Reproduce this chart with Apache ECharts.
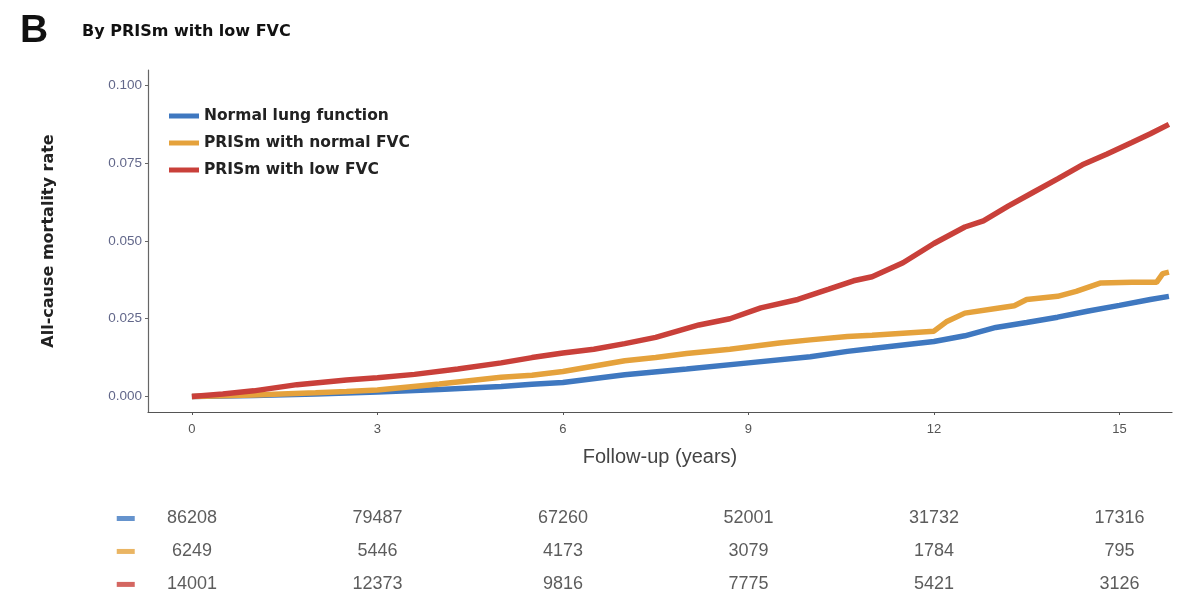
<!DOCTYPE html>
<html><head><meta charset="utf-8">
<script src="https://cdn.jsdelivr.net/npm/echarts@6/dist/echarts.min.js"></script>
<style>html,body{margin:0;padding:0;background:#fff}#c{width:1191px;height:596px}</style>
</head><body><div id="c"></div>
<script>
var seriesNames = ['Normal lung function', 'PRISm with normal FVC', 'PRISm with low FVC'];
var colors = ['#3f78c0', '#e5a23c', '#c9403a'];

var timeNormal = [0, 1, 2, 3, 4, 5, 5.5, 6, 7, 8, 9, 10, 10.6, 11, 12, 12.5, 13, 13.5, 14, 14.5, 15, 15.5, 15.8];
var valNormal  = [0, 0.0003, 0.0008, 0.0014, 0.0022, 0.0032, 0.0039, 0.0045, 0.0070, 0.0088, 0.0108, 0.0128, 0.0145, 0.0154, 0.0177, 0.0195, 0.0222, 0.0238, 0.0255, 0.0275, 0.0293, 0.0312, 0.0322];

var timeNormalFVC = [0, 1, 2, 2.5, 3, 4, 5, 5.5, 6, 7, 7.5, 8, 8.7, 9.5, 10, 10.6, 11, 12, 12.2, 12.5, 13, 13.3, 13.5, 14, 14.3, 14.7, 15.2, 15.6, 15.7, 15.8];
var valNormalFVC  = [0, 0.0005, 0.0012, 0.0016, 0.0021, 0.0040, 0.0062, 0.0068, 0.0080, 0.0115, 0.0125, 0.0138, 0.0152, 0.0172, 0.0182, 0.0193, 0.0197, 0.0210, 0.0240, 0.0268, 0.0283, 0.0292, 0.0312, 0.0322, 0.0338, 0.0365, 0.0367, 0.0367, 0.0395, 0.0400];

var timeLowFVC = [0, 0.5, 1, 1.7, 2.5, 3, 3.6, 4.3, 5, 5.5, 6, 6.5, 7, 7.5, 8.2, 8.7, 9.2, 9.8, 10.3, 10.7, 11, 11.5, 12, 12.5, 12.8, 13.2, 13.6, 14, 14.4, 14.8, 15.2, 15.5, 15.8];
var valLowFVC  = [0, 0.0008, 0.0018, 0.0038, 0.0053, 0.0060, 0.0071, 0.0088, 0.0108, 0.0125, 0.0140, 0.0152, 0.0170, 0.0190, 0.0230, 0.0250, 0.0285, 0.0312, 0.0345, 0.0372, 0.0385, 0.0430, 0.0492, 0.0545, 0.0565, 0.0612, 0.0656, 0.0700, 0.0745, 0.0780, 0.0817, 0.0845, 0.0875];

var riskTimes = [0, 3, 6, 9, 12, 15];
var riskNormal = [86208, 79487, 67260, 52001, 31732, 17316];
var riskNormalFVC = [6249, 5446, 4173, 3079, 1784, 795];
var riskLowFVC = [14001, 12373, 9816, 7775, 5421, 3126];

var xTicks = [0, 3, 6, 9, 12, 15];
var yTicks = [0, 0.025, 0.05, 0.075, 0.1];

function pairs(t, v) { return t.map(function (x, i) { return [x, v[i]]; }); }

var curveData = [pairs(timeNormal, valNormal), pairs(timeNormalFVC, valNormalFVC), pairs(timeLowFVC, valLowFVC)];
var riskRows = [riskNormal, riskNormalFVC, riskLowFVC];

var series = [];
curveData.forEach(function (d, i) {
  series.push({
    name: seriesNames[i], type: 'line', xAxisIndex: 0, yAxisIndex: 0,
    data: d, showSymbol: false, symbol: 'none',
    lineStyle: { width: 5.5, color: colors[i] }, itemStyle: { color: colors[i] },
    z: 2 + i
  });
});
riskRows.forEach(function (row, i) {
  series.push({
    type: 'scatter', xAxisIndex: 1, yAxisIndex: 1, symbolSize: 0, silent: true,
    data: row.map(function (n, j) { return [riskTimes[j], i, n]; }),
    label: { show: true, position: 'inside', formatter: function (p) { return p.data[2]; },
             color: '#333', fontSize: 18, fontFamily: 'Liberation Sans, Arial' }
  });
  series.push({
    type: 'scatter', xAxisIndex: 1, yAxisIndex: 1, silent: true, clip: false,
    symbol: 'rect', symbolSize: [18, 5], itemStyle: { color: colors[i] },
    data: [[-1.07, i]]
  });
});

var chart = echarts.init(document.getElementById('c'), null, { renderer: 'canvas' });
chart.setOption({
  animation: false,
  backgroundColor: '#fff',
  textStyle: { fontFamily: 'Liberation Sans, Arial, sans-serif' },
  graphic: [
    { type: 'text', left: 20, top: 12, style: { text: 'B', fontSize: 39, fontWeight: 'bold', fill: '#111', fontFamily: 'Liberation Sans, Arial' } },
    { type: 'text', left: 82, top: 24, style: { text: 'By PRISm with low FVC', fontSize: 16, fontWeight: 'bold', fill: '#111', fontFamily: 'DejaVu Sans' } }
  ],
  legend: {
    data: seriesNames, orient: 'vertical', left: 164, top: 103, itemGap: 11,
    icon: 'rect', itemWidth: 30, itemHeight: 5,
    textStyle: { fontSize: 15.5, fontWeight: 'bold', color: '#222', fontFamily: 'DejaVu Sans' }
  },
  grid: [
    { left: 148, right: 19, top: 70, height: 342, containLabel: false },
    { left: 148, right: 19, top: 502, height: 89 }
  ],
  xAxis: [
    { type: 'value', gridIndex: 0, min: -0.71, max: 15.85,
      name: 'Follow-up (years)', nameLocation: 'middle', nameGap: 35,
      nameTextStyle: { fontSize: 20, color: '#444', fontFamily: 'Liberation Sans, Arial' },
      axisLine: { show: true, onZero: false, lineStyle: { color: '#555', width: 1.2 } },
      axisTick: { show: true, length: 3, lineStyle: { color: '#555' }, customValues: xTicks },
      axisLabel: { fontSize: 13, color: '#555', margin: 11, customValues: xTicks, formatter: function (v) { return v; } },
      splitLine: { show: false } },
    { type: 'value', gridIndex: 1, min: -0.71, max: 15.85, show: false }
  ],
  yAxis: [
    { type: 'value', gridIndex: 0, min: -0.005, max: 0.105,
      name: 'All-cause mortality rate', nameLocation: 'middle', nameGap: 91, nameRotate: 90,
      nameTextStyle: { fontSize: 16, fontWeight: 'bold', color: '#222', fontFamily: 'DejaVu Sans' },
      axisLine: { show: true, onZero: false, lineStyle: { color: '#666', width: 1.2 } },
      axisTick: { show: true, length: 3, lineStyle: { color: '#666' }, customValues: yTicks },
      axisLabel: { fontSize: 13.5, color: '#62678a', margin: 6, customValues: yTicks, formatter: function (v) { return v.toFixed(3); } },
      splitLine: { show: false } },
    { type: 'value', gridIndex: 1, min: -0.5, max: 2.2, inverse: true, show: false }
  ],
  series: series
});
</script></body></html>
